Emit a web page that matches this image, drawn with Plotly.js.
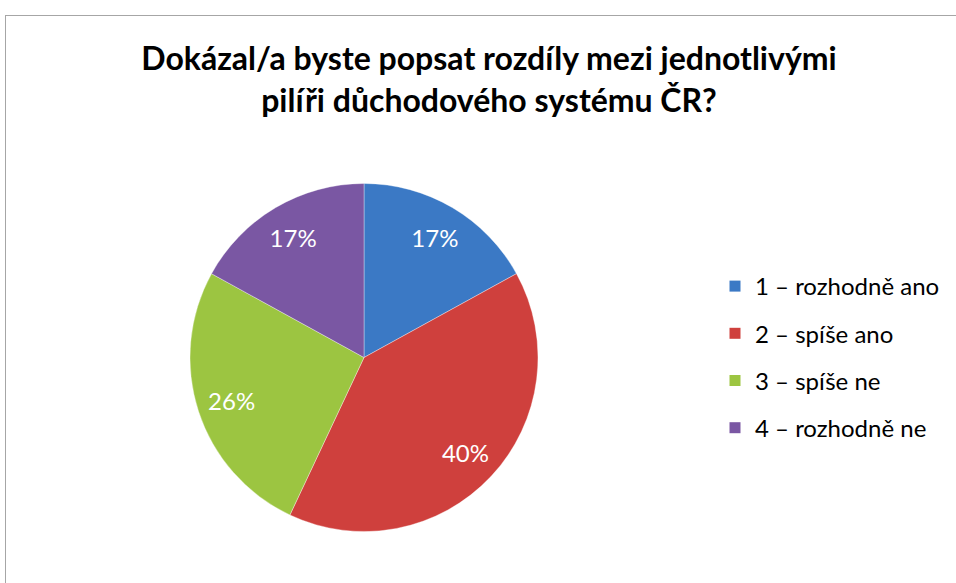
<!DOCTYPE html>
<html>
<head>
<meta charset="utf-8">
<script src="https://cdn.plot.ly/plotly-3.0.1.min.js"></script>
<style>
  html, body { margin: 0; padding: 0; background: #ffffff; }
  #wrap { position: relative; width: 956px; height: 583px; overflow: hidden; }
  #chart { width: 956px; height: 583px; }
  #frame { position: absolute; left: 5px; top: 15px; width: 970px; height: 600px;
           border: 1px solid #a6a6a6; pointer-events: none; box-sizing: border-box; }
</style>
</head>
<body>
<div id="wrap">
  <div id="chart"></div>
  <div id="frame"></div>
</div>
<script>
const categories = ["1 – rozhodně ano", "2 – spíše ano", "3 – spíše ne", "4 – rozhodně ne"];
const shares = [17, 40, 26, 17];
const colors = ["#3b79c5", "#cf403d", "#9cc541", "#7a57a3"];
const titleText = "Dokázal/a byste popsat rozdíly mezi jednotlivými<br>pilíři důchodového systému ČR?";

const FONT = "Lato, 'Open Sans', 'DejaVu Sans', sans-serif";
const pieDomain = { x: [190/956, 538/956], y: [1 - 532/583, 1 - 183/583] };

// base pie: coloured slices, no text
const pie = {
  type: "pie",
  labels: categories,
  values: shares,
  sort: false,
  direction: "clockwise",
  rotation: 0,
  marker: { colors: colors, line: { color: "rgba(255,255,255,0.35)", width: 1 } },
  textinfo: "none",
  domain: pieDomain,
  showlegend: false,
  hoverinfo: "label+percent"
};

// overlay ring carrying the percentage labels (transparent slices)
const labelRing = {
  type: "pie",
  labels: categories,
  values: shares,
  sort: false,
  direction: "clockwise",
  rotation: 0,
  hole: 0.6,
  marker: { colors: categories.map(() => "rgba(0,0,0,0)"), line: { width: 0 } },
  textinfo: "percent",
  textposition: "inside",
  insidetextorientation: "horizontal",
  textfont: { family: FONT, size: 24, color: "#ffffff" },
  domain: pieDomain,
  showlegend: false,
  hoverinfo: "skip"
};

const legendTraces = categories.map((c, i) => ({
  type: "scatter",
  mode: "markers",
  x: [null], y: [null],
  name: c,
  legendgroup: "g" + i,
  marker: { symbol: "square", size: 11, color: colors[i] },
  showlegend: true,
  hoverinfo: "skip"
}));

const layout = {
  width: 956, height: 583,
  margin: { l: 0, r: 0, t: 0, b: 0 },
  paper_bgcolor: "#ffffff",
  plot_bgcolor: "#ffffff",
  title: {
    text: titleText,
    font: { family: FONT, size: 32, color: "#000000", weight: "bold" },
    x: 489/956, xanchor: "center", xref: "paper",
    y: 1 - 70/583, yanchor: "middle", yref: "container"
  },
  xaxis: { visible: false, domain: [0.99, 1] },
  yaxis: { visible: false, domain: [0.99, 1] },
  showlegend: true,
  legend: {
    x: 715/956, xanchor: "left",
    y: 1 - 264/583, yanchor: "top",
    font: { family: FONT, size: 24, color: "#000000" },
    tracegroupgap: 13,
    itemwidth: 30,
    bgcolor: "rgba(0,0,0,0)"
  }
};

Plotly.newPlot("chart", [pie, labelRing].concat(legendTraces), layout, { displayModeBar: false, staticPlot: true });
</script>
</body>
</html>
